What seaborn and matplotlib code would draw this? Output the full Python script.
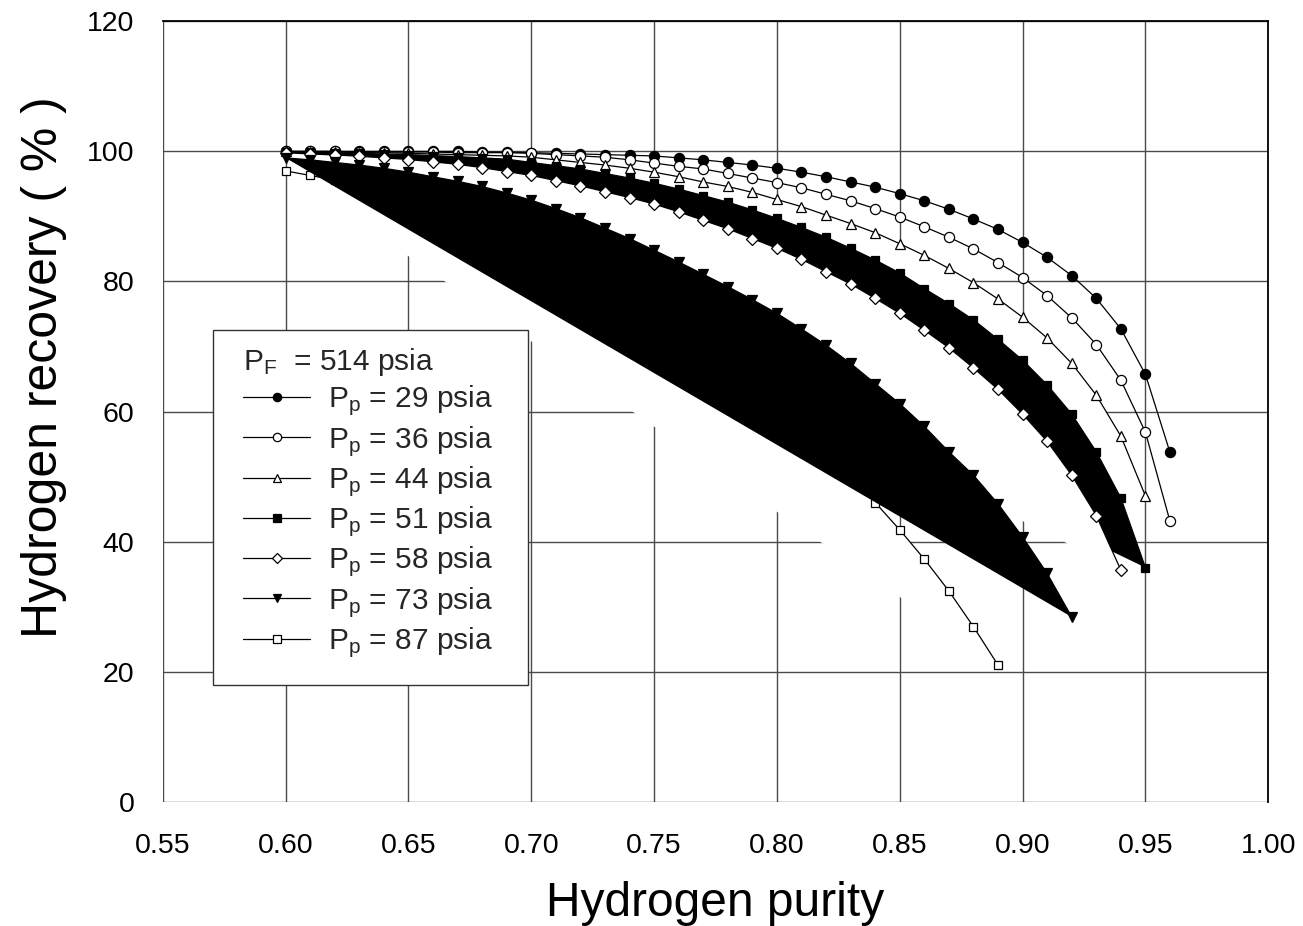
import numpy as np
import matplotlib
matplotlib.use("Agg")
import matplotlib.pyplot as plt
import seaborn as sns
from matplotlib.lines import Line2D
from matplotlib.patches import Rectangle

# ---------------- data ----------------
PURITY = [0.60, 0.61, 0.62, 0.63, 0.64, 0.65, 0.66, 0.67, 0.68, 0.69,
          0.70, 0.71, 0.72, 0.73, 0.74, 0.75, 0.76, 0.77, 0.78, 0.79,
          0.80, 0.81, 0.82, 0.83, 0.84, 0.85, 0.86, 0.87, 0.88, 0.89,
          0.90, 0.91, 0.92, 0.93, 0.94, 0.95, 0.96]

rec_29 = [100.0, 100.0, 100.0, 100.0, 100.0, 100.0, 100.0, 100.0, 99.9, 99.9,
          99.8, 99.7, 99.6, 99.5, 99.4, 99.3, 99.0, 98.7, 98.3, 97.9,
          97.4, 96.8, 96.1, 95.3, 94.5, 93.5, 92.4, 91.1, 89.6, 88.0,
          86.0, 83.7, 80.9, 77.4, 72.7, 65.7, 53.7]
rec_36 = [100.0, 100.0, 100.0, 99.9, 99.9, 99.9, 99.9, 99.8, 99.8, 99.8,
          99.7, 99.5, 99.3, 99.1, 98.7, 98.2, 97.7, 97.3, 96.6, 95.9,
          95.2, 94.4, 93.4, 92.4, 91.2, 89.9, 88.4, 86.8, 85.0, 82.9,
          80.6, 77.8, 74.4, 70.3, 64.8, 56.8, 43.1]
rec_44 = [100.0, 99.9, 99.9, 99.8, 99.8, 99.7, 99.6, 99.5, 99.4, 99.3,
          99.1, 98.7, 98.3, 97.9, 97.4, 96.8, 96.1, 95.3, 94.6, 93.7,
          92.6, 91.5, 90.2, 88.9, 87.5, 85.8, 84.0, 82.0, 79.8, 77.3,
          74.5, 71.3, 67.4, 62.5, 56.2, 47.0]
rec_51 = [99.9, 99.85, 99.8, 99.7, 99.6, 99.5, 99.35, 99.2, 99.0, 98.8,
          98.3, 97.8, 97.3, 96.6, 95.9, 95.1, 94.2, 93.2, 92.2, 91.0,
          89.7, 88.3, 86.8, 85.1, 83.3, 81.3, 78.9, 76.6, 74.1, 71.1,
          67.9, 64.1, 59.6, 53.8, 46.7, 36.0]
rec_58 = [99.8, 99.6, 99.45, 99.25, 99.0, 98.75, 98.4, 98.0, 97.5, 96.9,
          96.3, 95.5, 94.7, 93.8, 92.9, 91.9, 90.7, 89.4, 88.1, 86.6,
          85.1, 83.4, 81.5, 79.6, 77.4, 75.1, 72.5, 69.8, 66.7, 63.4,
          59.6, 55.4, 50.2, 44.0, 35.6]
rec_73 = [99.0, 98.7, 98.3, 97.9, 97.4, 96.8, 96.1, 95.4, 94.6, 93.6,
          92.5, 91.2, 89.8, 88.2, 86.6, 84.8, 83.0, 81.1, 79.2, 77.2,
          75.1, 72.7, 70.2, 67.4, 64.3, 61.2, 57.7, 53.8, 50.2, 45.8,
          40.7, 35.1, 28.4]
rec_87 = [97.0, 96.3, 95.6, 94.6, 93.3, 91.9, 90.4, 88.9, 87.3, 85.6,
          83.8, 81.9, 79.9, 77.8, 75.6, 73.3, 70.9, 68.4, 65.8, 63.1,
          60.3, 57.4, 54.4, 51.3, 46.0, 41.8, 37.3, 32.4, 26.9, 21.0]

LEGEND_TITLE = r"P$_{F}$  = 514 psia"
LABELS = [r"P$_{p}$ = 29 psia", r"P$_{p}$ = 36 psia", r"P$_{p}$ = 44 psia",
          r"P$_{p}$ = 51 psia", r"P$_{p}$ = 58 psia", r"P$_{p}$ = 73 psia",
          r"P$_{p}$ = 87 psia"]
X_TICKS = [0.55, 0.60, 0.65, 0.70, 0.75, 0.80, 0.85, 0.90, 0.95, 1.00]
Y_TICKS = [0, 20, 40, 60, 80, 100, 120]

# ---------------- style ----------------
sns.set_theme(style="white")
plt.rcParams["font.family"] = ["Liberation Sans", "DejaVu Sans"]
plt.rcParams["mathtext.default"] = "regular"

GRID = "#4a4a4a"
fig = plt.figure(figsize=(13.03, 9.26), dpi=100)
ax = fig.add_axes([0.12487, 0.13423, 0.84850, 0.84276])
ax.set_xlim(0.55, 1.00)
ax.set_ylim(0, 120)
ax.set_xticks(X_TICKS)
ax.set_xticklabels([f"{t:.2f}" for t in X_TICKS])
ax.set_yticks(Y_TICKS)
ax.set_axisbelow(True)
ax.grid(True, color=GRID, lw=1.0)
for s in ["left", "bottom"]:
    ax.spines[s].set_visible(False)
for s in ["top", "right"]:
    ax.spines[s].set_visible(True)
    ax.spines[s].set_color("black")
    ax.spines[s].set_linewidth(1.3)
ax.tick_params(axis="both", direction="out", width=1.0,
               color=GRID, labelsize=20.5, labelcolor="black")
ax.tick_params(axis="x", length=9.6, pad=13)
ax.tick_params(axis="y", length=11.3, pad=9)
ax.set_xlabel("Hydrogen purity", fontsize=34.5, labelpad=16, color="black")
ax.set_ylabel("Hydrogen recovery ( % )", fontsize=36, color="black")
ax.yaxis.set_label_coords(-0.087, 0.557)

LW = 0.9

def series(y, marker, mfc, ms, z, fill=None):
    x = PURITY[:len(y)]
    if fill is not None:
        ax.fill(x, y, facecolor=fill, edgecolor="none", lw=0, zorder=z)
    sns.lineplot(x=x, y=y, ax=ax, color="black", lw=LW, marker=marker,
                 markersize=ms, markerfacecolor=mfc, markeredgecolor="black",
                 markeredgewidth=0.9, zorder=z + 0.1, sort=False,
                 estimator=None, errorbar=None, legend=False)

series(rec_87, "s", "white", 6.3, 1.0, fill="white")
series(rec_29, "o", "black", 7.3, 2.0)
series(rec_36, "o", "white", 7.3, 2.2)
series(rec_44, "^", "white", 7.8, 3.0, fill="white")
series(rec_51, "s", "black", 6.3, 4.0, fill="black")
series(rec_58, "D", "white", 6.3, 5.0, fill="white")
series(rec_73, "v", "black", 7.8, 6.0, fill="black")

# legend frame (white box covering the grid)
box = Rectangle((0.0455, 0.1495), 0.2849, 0.4549, transform=ax.transAxes,
                facecolor="white", edgecolor="#333333", lw=1.0, zorder=19)
ax.add_patch(box)

specs = [("o", "black", 6.0), ("o", "white", 6.0), ("^", "white", 6.2),
         ("s", "black", 5.6), ("D", "white", 5.6), ("v", "black", 6.2),
         ("s", "white", 5.6)]
handles = [Line2D([], [], color="black", lw=LW, marker=m, ms=s, mfc=f,
                  mec="black", mew=0.9) for m, f, s in specs]
leg = ax.legend(handles, LABELS, title=LEGEND_TITLE, loc="upper left",
                bbox_to_anchor=(0.0726, 0.5839), borderaxespad=0,
                frameon=False, fontsize=21.5, title_fontsize=21.5,
                alignment="left", handlelength=2.25, handletextpad=0.6,
                borderpad=0.0, labelspacing=0.19)
leg._legend_handle_box.sep = 5
leg.set_zorder(20)

fig.savefig("out.png", dpi=100, facecolor="white")
